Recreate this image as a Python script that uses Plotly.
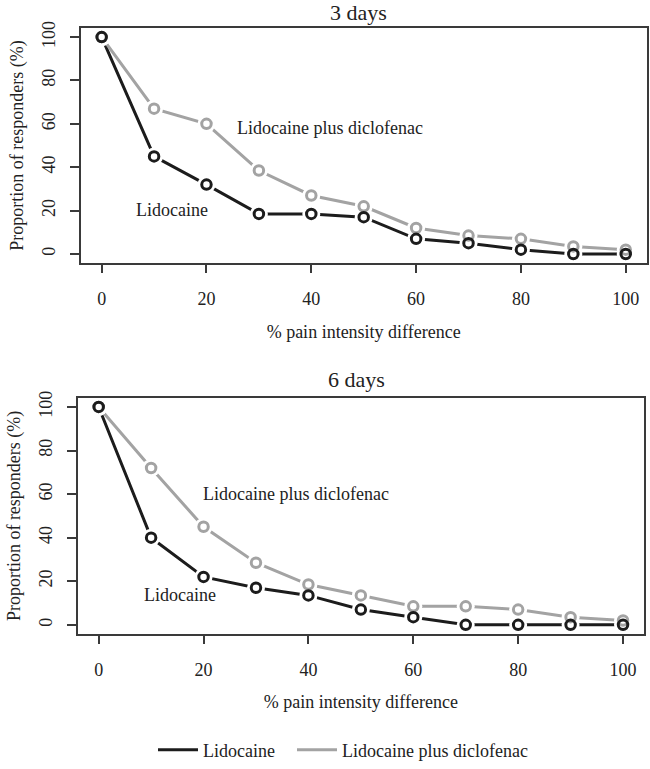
import plotly.graph_objects as go

# ---- data ----
pid = [0, 10, 20, 30, 40, 50, 60, 70, 80, 90, 100]
lido_3d = [100, 45, 32, 18.5, 18.5, 17, 7, 5, 2, 0, 0]
combo_3d = [100, 67, 60, 38.5, 27, 22, 12, 8.5, 7, 3.5, 2]
lido_6d = [100, 40, 22, 17, 13.5, 7, 3.5, 0, 0, 0, 0]
combo_6d = [100, 72, 45, 28.5, 18.5, 13.5, 8.5, 8.5, 7, 3.5, 2]
yticks = [0, 20, 40, 60, 80, 100]
xticks = [0, 20, 40, 60, 80, 100]
name_lido = "Lidocaine"
name_combo = "Lidocaine plus diclofenac"

BLACK = "#1c1c1c"
GRAY = "#a3a3a3"
TXT = "#222"
FONT = "Liberation Serif"
W, H = 650, 769

fig = go.Figure()

def add_panel(xa, ya, lido, combo, show_legend):
    fig.add_trace(go.Scatter(x=pid, y=lido, mode="lines", name=name_lido,
                             line=dict(color=BLACK, width=3), xaxis=xa, yaxis=ya,
                             showlegend=show_legend, legend="legend"))
    fig.add_trace(go.Scatter(x=pid, y=combo, mode="lines", name=name_combo,
                             line=dict(color=GRAY, width=3), xaxis=xa, yaxis=ya,
                             showlegend=show_legend, legend="legend2"))
    for ys in (lido, combo):
        fig.add_trace(go.Scatter(x=pid, y=ys, mode="markers", hoverinfo="skip",
                                 marker=dict(size=18, color="white", line=dict(width=0)),
                                 xaxis=xa, yaxis=ya, showlegend=False))
    fig.add_trace(go.Scatter(x=pid, y=combo, mode="markers",
                             marker=dict(size=9.5, color="white", line=dict(color=GRAY, width=3)),
                             xaxis=xa, yaxis=ya, showlegend=False))
    fig.add_trace(go.Scatter(x=pid, y=lido, mode="markers",
                             marker=dict(size=9.5, color="rgba(255,255,255,0)", line=dict(color=BLACK, width=3)),
                             xaxis=xa, yaxis=ya, showlegend=False))

add_panel("x", "y", lido_3d, combo_3d, True)
add_panel("x2", "y2", lido_6d, combo_6d, False)

axis_common = dict(range=[-4, 104], showgrid=False, zeroline=False, showline=True,
                   linecolor="#3a3a3a", linewidth=1.5, mirror=True, ticks="outside",
                   ticklen=9, tickwidth=1.5, tickcolor="#3a3a3a",
                   tickfont=dict(family=FONT, size=18, color=TXT), automargin=False)

xtitle = dict(text="% pain intensity difference", standoff=17,
              font=dict(family=FONT, size=18, color=TXT))
ytitle = dict(text="Proportion of responders (%)", standoff=10,
              font=dict(family=FONT, size=18, color=TXT))

legend_common = dict(orientation="h", xanchor="left", yanchor="middle", y=1 - 766 / H,
                     itemwidth=40,
                     font=dict(family=FONT, size=18, color=TXT), bgcolor="rgba(0,0,0,0)")

fig.update_layout(
    width=W, height=H,
    margin=dict(l=0, r=0, t=0, b=0),
    paper_bgcolor="white", plot_bgcolor="white",
    font=dict(family=FONT, size=18, color=TXT),
    xaxis=dict(domain=[80.7 / W, 646.7 / W], anchor="y", tickvals=xticks,
               ticklabelstandoff=10, title=xtitle, **axis_common),
    yaxis=dict(domain=[1 - 268.3 / H, 1 - 29 / H], anchor="x", tickvals=yticks,
               tickangle=-90, ticklabelstandoff=8, title=ytitle, **axis_common),
    xaxis2=dict(domain=[77.7 / W, 644 / W], anchor="y2", tickvals=xticks,
                ticklabelstandoff=10, title=xtitle, **axis_common),
    yaxis2=dict(domain=[1 - 647 / H, 1 - 406.7 / H], anchor="x2", tickvals=yticks,
                tickangle=-90, ticklabelstandoff=8, title=ytitle, **axis_common),
    legend=dict(x=153 / W, **legend_common),
    legend2=dict(x=292 / W, **legend_common),
    showlegend=True,
)

annotations = [
    dict(text="3 days", x=358 / W, y=1 - 13 / H, xref="paper", yref="paper",
         xanchor="center", yanchor="middle", showarrow=False,
         font=dict(family=FONT, size=22, color=TXT)),
    dict(text="6 days", x=356 / W, y=1 - 388 / H, xref="paper", yref="paper",
         xanchor="center", yanchor="middle", showarrow=False,
         font=dict(family=FONT, size=22, color=TXT)),
    dict(text=name_combo, x=43.5, y=58.1, xref="x", yref="y", showarrow=False,
         font=dict(family=FONT, size=18, color=TXT)),
    dict(text=name_lido, x=13.4, y=20.5, xref="x", yref="y", showarrow=False,
         font=dict(family=FONT, size=18, color=TXT)),
    dict(text=name_combo, x=37.6, y=59.9, xref="x2", yref="y2", showarrow=False,
         font=dict(family=FONT, size=18, color=TXT)),
    dict(text=name_lido, x=15.6, y=13.5, xref="x2", yref="y2", showarrow=False,
         font=dict(family=FONT, size=18, color=TXT)),
]
fig.update_layout(annotations=annotations)

# remove the default 8px body margin so the figure sits at the page origin
fig.write_html("out.html", config={"displayModeBar": False},
               post_script="document.body.style.margin='0';")
